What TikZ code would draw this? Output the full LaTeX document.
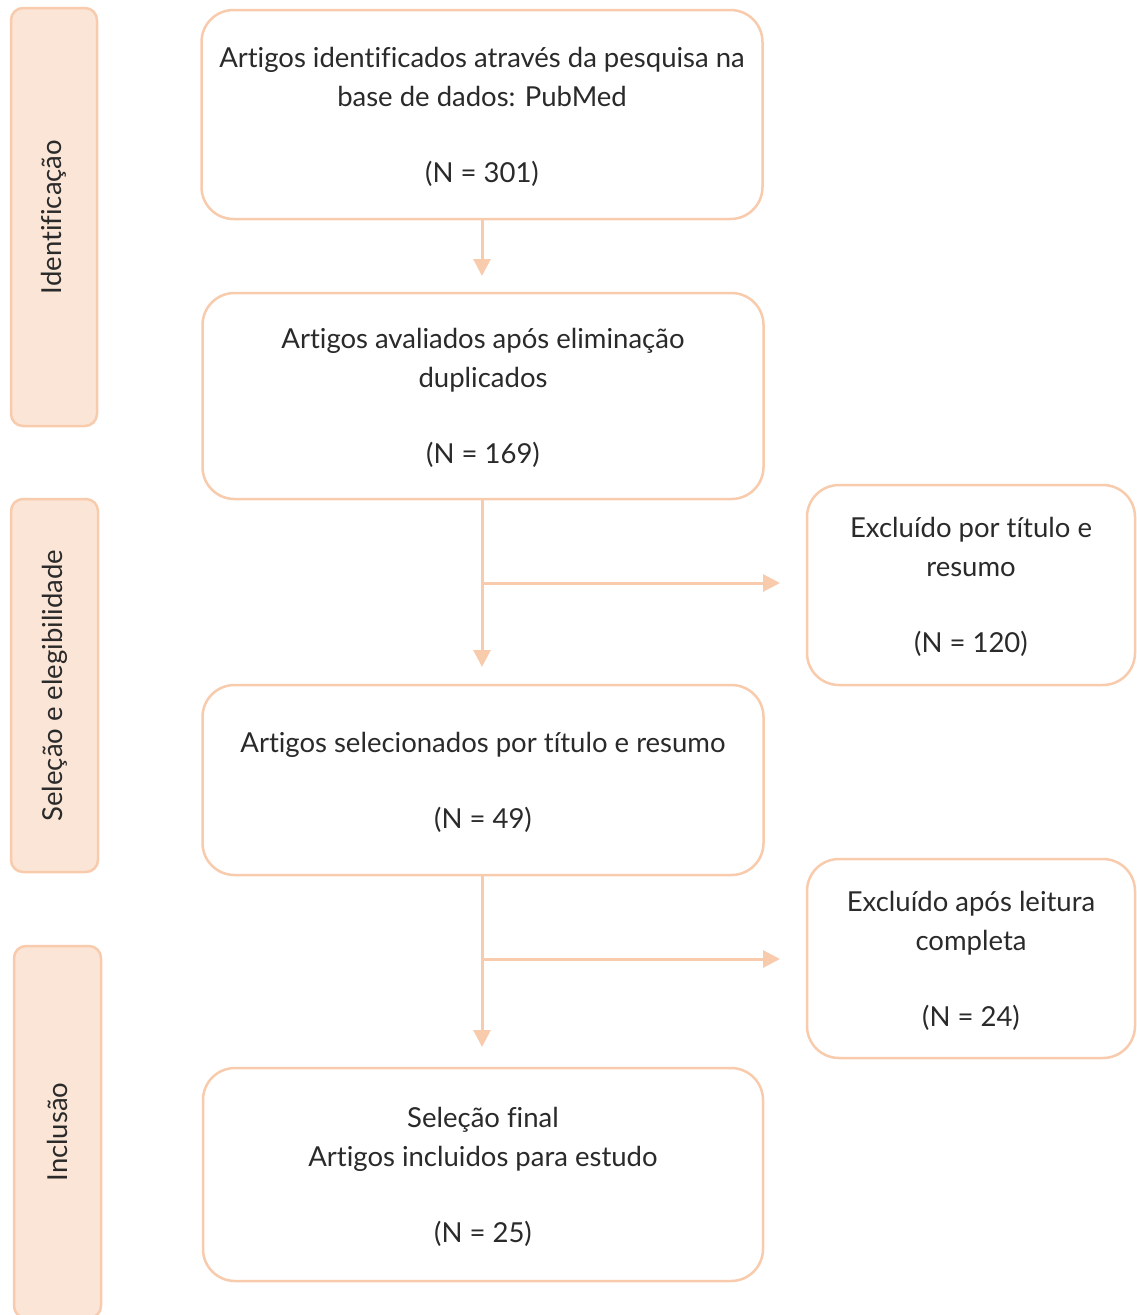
\documentclass[tikz,border=0pt]{standalone}
\usepackage{fontspec}
\setmainfont{Lato}[Ligatures=NoCommon]
\usetikzlibrary{arrows.meta}
\definecolor{peach}{HTML}{F8CBAD}
\definecolor{peachfill}{HTML}{FBE5D6}
\definecolor{txt}{HTML}{2A2A2A}
\begin{document}
\begin{tikzpicture}[x=1pt,y=-1pt]
\tikzset{
 box/.style={draw=peach, line width=2.5pt, rounded corners=32pt, fill=white, align=center, text=txt, font=\fontsize{27.5}{39}\selectfont, inner sep=0pt, text depth=0pt},
 side/.style={draw=peach, line width=2.5pt, fill=peachfill, rounded corners=12pt, rotate=90, text=txt, font=\fontsize{27.5}{39}\selectfont, inner sep=0pt},
 arr/.style={draw=peach, line width=3pt, -{Triangle[length=17pt,width=17pt]}},
}
\useasboundingbox (0,0) rectangle (1137,1315);
\node[side, minimum width=418pt, minimum height=86pt] (s1) at (54,217) {Identificação};
\node[side, minimum width=373pt, minimum height=87pt] (s2) at (54.5,685.5) {Seleção e elegibilidade};
\node[side, minimum width=372pt, minimum height=87pt] (s3) at (57.5,1132) {Inclusão};

\node[box, minimum width=561pt, minimum height=209pt] (b1) at (482,114.5) {Artigos identificados através da pesquisa na\\base de dados: PubMed\\[37pt](N = 301)};
\node[box, minimum width=561pt, minimum height=206pt] (b2) at (483,396) {Artigos avaliados após eliminação\\duplicados\\[37pt](N = 169)};
\node[box, minimum width=561pt, minimum height=190pt] (b3) at (483,780) {Artigos selecionados por título e resumo\\[37pt](N = 49)};
\node[box, minimum width=560pt, minimum height=213pt] (b4) at (483,1174.5) {Seleção final\\Artigos incluidos para estudo\\[37pt](N = 25)};
\node[box, minimum width=328pt, minimum height=200pt] (r1) at (971,585) {Excluído por título e\\resumo\\[37pt](N = 120)};
\node[box, minimum width=328pt, minimum height=199pt] (r2) at (971,958.5) {Excluído após leitura\\completa\\[37pt](N = 24)};

\coordinate (t1) at (482,276);
\coordinate (t2) at (482,667);
\coordinate (t3) at (482,1047);
\coordinate (j1) at (482,583);
\coordinate (j2) at (482,959);
\coordinate (e1) at (780,583);
\coordinate (e2) at (780,959);
\draw[arr] (b1.south -| t1) -- (t1);
\draw[arr] (b2.south -| t2) -- (t2);
\draw[arr] (b3.south -| t3) -- (t3);
\draw[arr] (j1) -- (e1);
\draw[arr] (j2) -- (e2);
\end{tikzpicture}
\end{document}
